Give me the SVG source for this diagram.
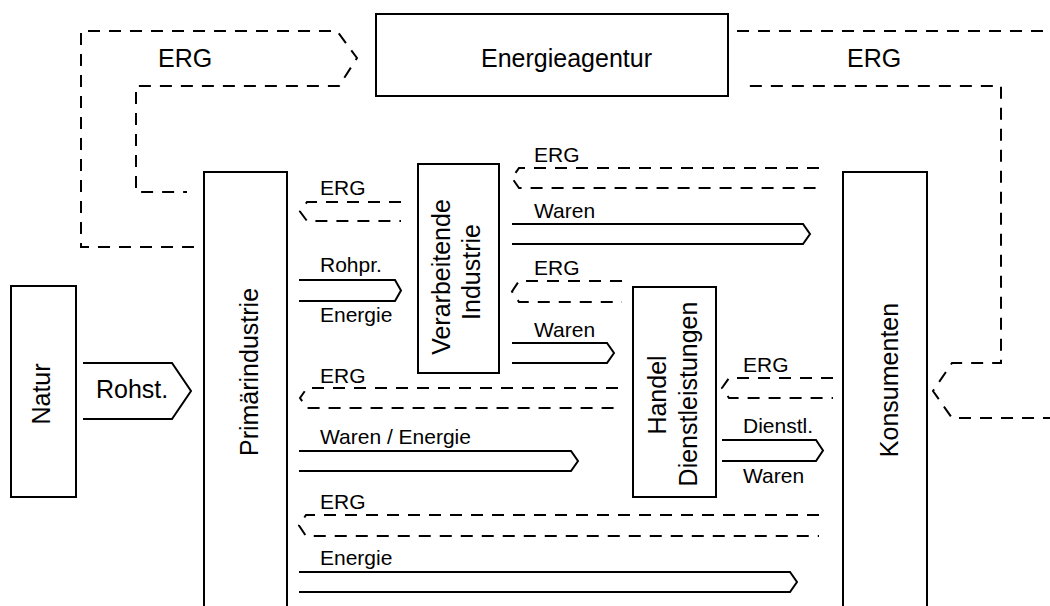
<svg xmlns="http://www.w3.org/2000/svg" width="1050" height="606" viewBox="0 0 1050 606">
<style>
.box{fill:#fff;stroke:#000;stroke-width:2}
.flow{fill:none;stroke:#000;stroke-width:2;stroke-linejoin:miter}
.erg{fill:none;stroke:#000;stroke-width:2;stroke-dasharray:12 9}
text{font-family:"Liberation Sans",Arial,sans-serif;fill:#000}
.big{font-size:25px}
.small{font-size:21px}
.mid{text-anchor:middle}
</style>
<rect width="1050" height="606" fill="#fff"/>
<g id="connectors">
  <path class="erg" d="M194,247 H81 V31 H337 L357,58 L339,86 H136 V192 H187"/>
  <path class="erg" d="M737,31 H1070 V418 H952 L933,391 L952,363 H1001 V86 H745"/>
  <path class="flow" d="M83,363 H172 L191,391 L172,419 H83"/>
  <path class="erg" d="M401,202 H307 L300,211.5 L307,221 H401"/>
  <path class="flow" d="M299,280 H395 L401,290.5 L395,301 H299"/>
  <path class="erg" d="M819,168 H519 L512,178 L519,188 H819"/>
  <path class="flow" d="M512,224 H803 L810,234 L803,244 H512"/>
  <path class="erg" d="M622,281 H519 L512,291.5 L519,302 H622"/>
  <path class="flow" d="M512,343 H607 L614,353 L607,363 H512"/>
  <path class="erg" d="M618,388 H307 L300,398 L307,408 H618"/>
  <path class="erg" d="M833,378 H729 L722,388 L729,398 H833"/>
  <path class="flow" d="M299,451 H571 L578,461 L571,471 H299"/>
  <path class="flow" d="M722,440 H816 L823,450.5 L816,461 H722"/>
  <path class="erg" d="M819,515 H306 L299,525.5 L306,536 H819"/>
  <path class="flow" d="M299,572 H790 L797,582 L790,592 H299"/>
</g>
<g id="labels">
  <text class="big" x="158" y="67">ERG</text>
  <text class="big" x="847" y="67">ERG</text>
  <text class="big" x="96" y="398">Rohst.</text>
  <text class="small" x="320" y="195">ERG</text>
  <text class="small" x="320" y="272">Rohpr.</text>
  <text class="small" x="320" y="322">Energie</text>
  <text class="small" x="534" y="162">ERG</text>
  <text class="small" x="534" y="218">Waren</text>
  <text class="small" x="534" y="275">ERG</text>
  <text class="small" x="534" y="337">Waren</text>
  <text class="small" x="320" y="383">ERG</text>
  <text class="small" x="743" y="372">ERG</text>
  <text class="small" x="320" y="444">Waren / Energie</text>
  <text class="small" x="743" y="433">Dienstl.</text>
  <text class="small" x="743" y="483">Waren</text>
  <text class="small" x="320" y="509">ERG</text>
  <text class="small" x="320" y="565">Energie</text>
</g>
<g id="energieagentur">
  <rect class="box" x="376" y="14" width="352" height="82"/>
  <text class="big" x="481" y="67">Energieagentur</text>
</g>
<g id="natur">
  <rect class="box" x="11" y="286" width="65" height="211"/>
  <text class="big mid" transform="translate(50,394) rotate(-90)">Natur</text>
</g>
<g id="primaerindustrie">
  <rect class="box" x="204" y="172" width="83" height="460"/>
  <text class="big mid" transform="translate(257.5,372) rotate(-90)">Primärindustrie</text>
</g>
<g id="verarbeitende">
  <rect class="box" x="418" y="164" width="81" height="209"/>
  <text class="big mid" transform="translate(450,277) rotate(-90)">Verarbeitende</text>
  <text class="big mid" transform="translate(480,272) rotate(-90)">Industrie</text>
</g>
<g id="handel">
  <rect class="box" x="633" y="287" width="83" height="210"/>
  <text class="big mid" transform="translate(665.5,395) rotate(-90)">Handel</text>
  <text class="big mid" transform="translate(697,394) rotate(-90)">Dienstleistungen</text>
</g>
<g id="konsumenten">
  <rect class="box" x="843" y="172" width="84" height="460"/>
  <text class="big mid" transform="translate(898,380) rotate(-90)">Konsumenten</text>
</g>
</svg>
